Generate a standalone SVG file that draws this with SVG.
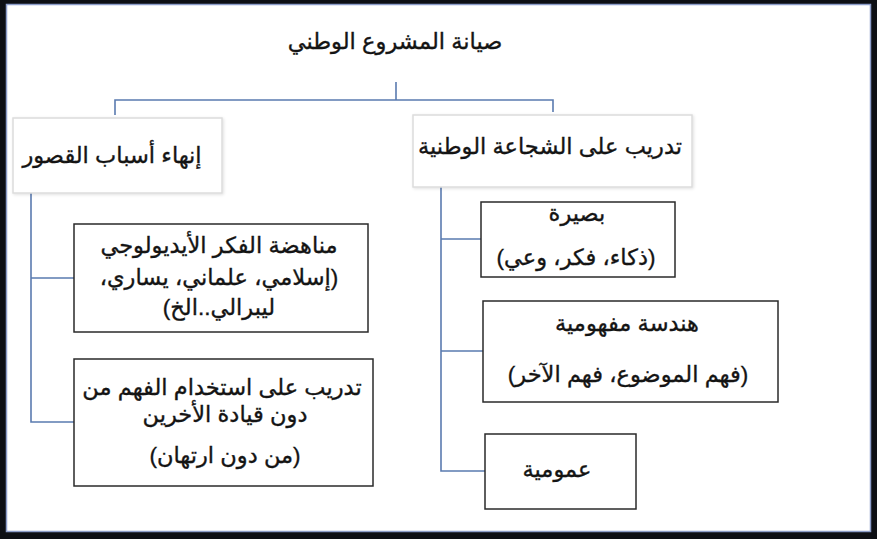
<svg xmlns="http://www.w3.org/2000/svg" width="877" height="539" viewBox="0 0 877 539">
<defs>
<style>
.t{font-family:"Liberation Sans","DejaVu Sans","Noto Sans",sans-serif;font-size:22.5px;fill:#141414;stroke:#141414;stroke-width:0.35;text-anchor:middle;direction:rtl}
.top{fill:#fff;stroke:#dcdcdc;stroke-width:1.5}
.box{fill:#fff;stroke:#2a2a2a;stroke-width:1.5}
.c{fill:none;stroke:#5a7bb0;stroke-width:1.6}
</style>
<filter id="sh" x="-10%" y="-10%" width="130%" height="130%">
<feDropShadow dx="1" dy="1" stdDeviation="1.5" flood-color="#000" flood-opacity="0.12"/>
</filter>
</defs>
<rect x="0" y="0" width="877" height="539" fill="#0d0f14"/>
<rect x="6.5" y="4.5" width="864" height="527" fill="#fff" stroke="#8c9dc9" stroke-width="1.5"/>

<g id="connectors">
<path class="c" d="M396 82 V100 M115 115 V100 H553 V112"/>
<path class="c" d="M31 193 V422 H75 M31 278 H75"/>
<path class="c" d="M441 187 V471 H485 M441 239 H481 M441 351 H483"/>
</g>

<g id="root">
<text class="t" x="395" y="49">صيانة المشروع الوطني</text>
</g>

<g id="n-left">
<rect class="top" x="13" y="118" width="209" height="75" filter="url(#sh)"/>
<text class="t" x="112" y="163">إنهاء أسباب القصور</text>
</g>

<g id="n-right">
<rect class="top" x="413" y="115" width="279" height="72" filter="url(#sh)"/>
<text class="t" x="550" y="154">تدريب على الشجاعة الوطنية</text>
</g>

<g id="n-l1">
<rect class="box" x="74" y="224" width="294" height="108"/>
<text class="t" x="219" y="253">مناهضة الفكر الأيديولوجي</text>
<text class="t" x="219" y="285">(إسلامي، علماني، يساري،</text>
<text class="t" x="219" y="315">ليبرالي..الخ)</text>
</g>

<g id="n-l2">
<rect class="box" x="74" y="359" width="299" height="127"/>
<text class="t" x="222" y="395">تدريب على استخدام الفهم من</text>
<text class="t" x="225" y="422">دون قيادة الأخرين</text>
<text class="t" x="225" y="463">(من دون ارتهان)</text>
</g>

<g id="n-r1">
<rect class="box" x="481" y="202" width="194" height="75"/>
<text class="t" x="577" y="221">بصيرة</text>
<text class="t" x="576" y="265">(ذكاء، فكر، وعي)</text>
</g>

<g id="n-r2">
<rect class="box" x="483" y="301" width="295" height="101"/>
<text class="t" x="627" y="331">هندسة مفهومية</text>
<text class="t" x="628" y="382">(فهم الموضوع،  فهم الآخر)</text>
</g>

<g id="n-r3">
<rect class="box" x="485" y="434" width="151" height="75"/>
<text class="t" x="557" y="477">عمومية</text>
</g>
</svg>
